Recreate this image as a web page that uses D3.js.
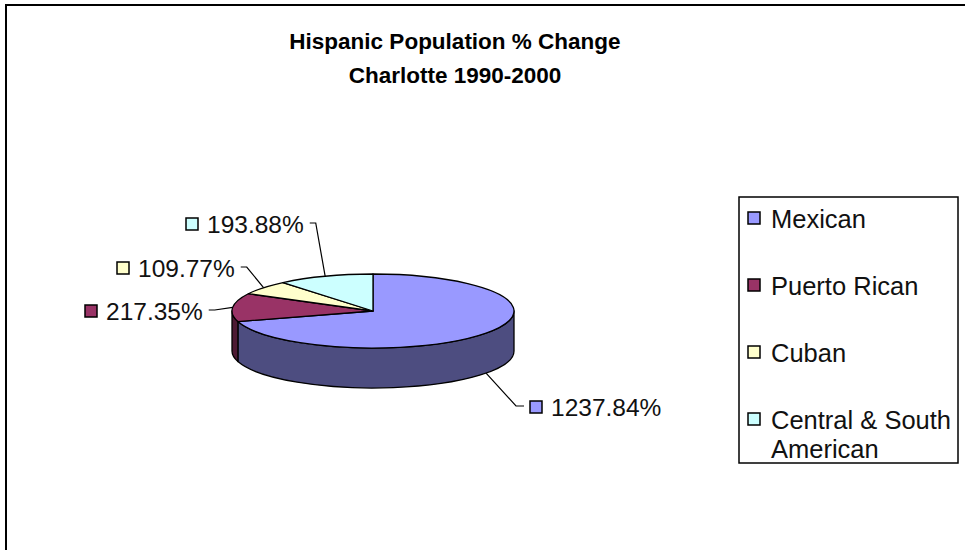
<!DOCTYPE html>
<html>
<head>
<meta charset="utf-8">
<script src="https://cdn.jsdelivr.net/npm/d3@7/dist/d3.min.js"></script>
<style>
  html, body { margin: 0; padding: 0; background: #fff; }
  svg { display: block; font-family: "Liberation Sans", Arial, sans-serif; }
</style>
</head>
<body>
<svg id="chart" width="965" height="550"></svg>
<script>
// Hispanic population growth by origin, Charlotte 1990-2000
const categories = ["Mexican", "Puerto Rican", "Cuban", "Central & South American"];
const pctChange = [1237.84, 217.35, 109.77, 193.88];
const topColors = ["#9999FF", "#993366", "#FFFFCC", "#CCFFFF"];
const sideColors = ["#4D4D80", "#4D1A33", "#80806A", "#6A8080"];
const titleLines = ["Hispanic Population % Change", "Charlotte 1990-2000"];
// legend text wraps the long category over two lines
const legendLines = [["Mexican"], ["Puerto Rican"], ["Cuban"], ["Central & South", "American"]];

const svg = d3.select("#chart");

// outer chart frame (right and bottom run off the page)
svg.append("rect")
  .attr("x", 6).attr("y", 5).attr("width", 1000).attr("height", 600)
  .attr("fill", "none").attr("stroke", "#000").attr("stroke-width", 2);

// title
svg.append("g").selectAll("text").data(titleLines).join("text")
  .attr("x", 455).attr("y", (d, i) => 49 + i * 34)
  .attr("text-anchor", "middle")
  .attr("font-size", 22.5).attr("font-weight", "bold")
  .text(d => d);

// tilted pie geometry
const cx = 373, cy = 311, rx = 141, ry = 37, depth = 40;
const fmt = d => d3.format(".2f")(d) + "%";

const pie = d3.pie().sort(null).value(d => d)(pctChange);

const pt = (a, dy = 0) => [cx + rx * Math.sin(a), cy - ry * Math.cos(a) + dy];

// visible outer wall for the front half of the pie
function sidePath(a0, a1) {
  const s = Math.max(a0, Math.PI / 2), e = Math.min(a1, 3 * Math.PI / 2);
  if (e <= s) return null;
  const [x0, y0] = pt(s), [x1, y1] = pt(e);
  const [x2, y2] = pt(e, depth), [x3, y3] = pt(s, depth);
  return `M${x0},${y0} A${rx},${ry} 0 0 1 ${x1},${y1} L${x2},${y2} A${rx},${ry} 0 0 0 ${x3},${y3} Z`;
}

function topPath(a0, a1) {
  const [x0, y0] = pt(a0), [x1, y1] = pt(a1);
  const large = (a1 - a0) > Math.PI ? 1 : 0;
  return `M${cx},${cy} L${x0},${y0} A${rx},${ry} 0 ${large} 1 ${x1},${y1} Z`;
}

const pieG = svg.append("g");
pieG.selectAll("path.side")
  .data(pie.filter(d => sidePath(d.startAngle, d.endAngle)))
  .join("path").attr("class", "side")
  .attr("d", d => sidePath(d.startAngle, d.endAngle))
  .attr("fill", d => sideColors[d.index])
  .attr("stroke", "#000").attr("stroke-width", 1.3).attr("stroke-linejoin", "round");

pieG.selectAll("path.top").data(pie).join("path").attr("class", "top")
  .attr("d", d => topPath(d.startAngle, d.endAngle))
  .attr("fill", d => topColors[d.index])
  .attr("stroke", "#000").attr("stroke-width", 1.3).attr("stroke-linejoin", "round");

// data labels with leader lines
const labelPos = [
  { x: 530, y: 416, side: "right" },
  { x: 85, y: 320, side: "left" },
  { x: 117, y: 277, side: "left" },
  { x: 186, y: 233, side: "left" }
];

const labelG = svg.append("g");
pie.forEach((d, i) => {
  const mid = (d.startAngle + d.endAngle) / 2;
  const front = mid > Math.PI / 2 && mid < 3 * Math.PI / 2;
  const anchor = pt(mid, front ? depth : 0);
  const lp = labelPos[i];
  const g = labelG.append("g");
  g.append("rect")
    .attr("x", lp.x).attr("y", lp.y - 15).attr("width", 12).attr("height", 12)
    .attr("fill", topColors[i]).attr("stroke", "#000").attr("stroke-width", 1.5);
  const t = g.append("text")
    .attr("x", lp.x + 21).attr("y", lp.y)
    .attr("font-size", 24.5).attr("fill", "#111")
    .text(fmt(pctChange[i]));
  const w = t.node().getComputedTextLength();
  const ly = lp.y - 10;
  let start, elbow;
  if (lp.side === "left") {
    start = [lp.x + 21 + w + 6, ly];
    elbow = [start[0] + 6, ly];
  } else {
    start = [lp.x - 6, ly];
    elbow = [start[0] - 8, ly];
  }
  g.append("path")
    .attr("d", d3.line()([start, elbow, anchor]))
    .attr("fill", "none").attr("stroke", "#000").attr("stroke-width", 1.2);
});

// legend
const legend = svg.append("g");
legend.append("rect")
  .attr("x", 739).attr("y", 197).attr("width", 219).attr("height", 266)
  .attr("fill", "#fff").attr("stroke", "#000").attr("stroke-width", 1.5);
categories.forEach((c, i) => {
  const by = 228 + i * 67;
  legend.append("rect")
    .attr("x", 748).attr("y", by - 16).attr("width", 12).attr("height", 12)
    .attr("fill", topColors[i]).attr("stroke", "#000").attr("stroke-width", 1.5);
  legend.append("text")
    .attr("x", 771).attr("y", by)
    .attr("font-size", 25.5).attr("fill", "#111")
    .selectAll("tspan").data(legendLines[i]).join("tspan")
    .attr("x", 771).attr("dy", (d, j) => j === 0 ? 0 : 29)
    .text(d => d);
});
</script>
</body>
</html>
